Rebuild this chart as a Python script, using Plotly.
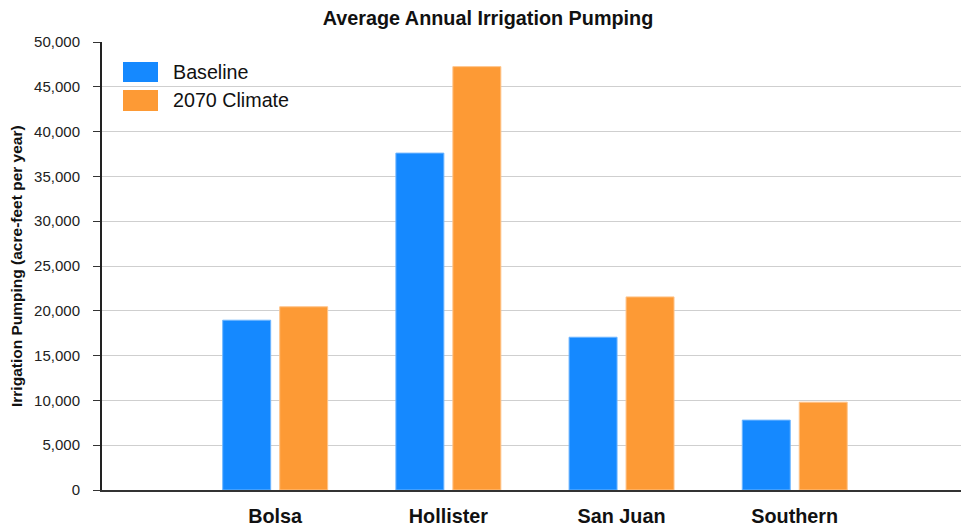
import plotly.graph_objects as go

# Average annual irrigation pumping by subbasin (acre-feet per year)
regions = ["Bolsa", "Hollister", "San Juan", "Southern"]
baseline = [18950, 37600, 17050, 7800]
climate_2070 = [20450, 47250, 21550, 9800]
y_ticks = [0, 5000, 10000, 15000, 20000, 25000, 30000, 35000, 40000, 45000, 50000]

BLUE = "#1589FF"
ORANGE = "#FD9A35"
FONT = "Liberation Sans, Arial, sans-serif"

W, H = 961, 526
ML, MR, MT, MB = 102, 0, 42, 36
PW, PH = W - ML - MR, H - MT - MB


def px_x(p):
    return (p - ML) / PW


def px_y(p):
    return (H - MB - p) / PH


fig = go.Figure()
fig.add_trace(go.Bar(name="Baseline", x=regions, y=baseline,
                     marker=dict(color=BLUE, line=dict(color="#6fb6ff", width=1))))
fig.add_trace(go.Bar(name="2070 Climate", x=regions, y=climate_2070,
                     marker=dict(color=ORANGE, line=dict(color="#ffc48a", width=1))))

# hand-drawn legend with wide swatches
legend_items = [("Baseline", BLUE, 62, 82), ("2070 Climate", ORANGE, 90, 111)]
for label, color, top, bottom in legend_items:
    fig.add_shape(type="rect", xref="paper", yref="paper",
                  x0=px_x(123), x1=px_x(158), y0=px_y(bottom), y1=px_y(top),
                  fillcolor=color, line=dict(width=0))
    fig.add_annotation(xref="paper", yref="paper", x=px_x(171), y=px_y((top + bottom) / 2),
                       text=label, showarrow=False, xanchor="left", yanchor="middle",
                       font=dict(family=FONT, size=19.7, color="#111"))

fig.add_annotation(xref="paper", yref="paper", x=px_x(16), y=px_y(266),
                   text="<b>Irrigation Pumping (acre-feet per year)</b>", textangle=-90,
                   showarrow=False, xanchor="center", yanchor="middle",
                   font=dict(family=FONT, size=15.5, color="#111"))

fig.update_layout(
    width=W, height=H,
    margin=dict(l=ML, r=MR, t=MT, b=MB),
    paper_bgcolor="white", plot_bgcolor="white",
    barmode="group", bargap=0.342, bargroupgap=0.158,
    showlegend=False,
    title=dict(text="<b>Average Annual Irrigation Pumping</b>", x=488 / W, xanchor="center",
               y=1 - 18 / H, yanchor="middle",
               font=dict(family=FONT, size=19.8, color="#111")),
    font=dict(family=FONT, color="#222"),
)

fig.update_xaxes(
    range=[-1.0, 3.96],
    showline=True, linecolor="#333", linewidth=2,
    showgrid=False, ticks="",
    tickfont=dict(family=FONT, size=19.8, color="#111"),
    tickprefix="<b>", ticksuffix="</b>",
    ticklabelstandoff=7,
)
fig.update_yaxes(
    range=[0, 50000],
    tickvals=y_ticks, ticktext=[f"{v:,}" for v in y_ticks],
    showline=True, linecolor="#222", linewidth=2,
    showgrid=True, gridcolor="#cfcfcf", gridwidth=1,
    zeroline=False,
    ticks="outside", ticklen=7, tickcolor="#333", tickwidth=1,
    tickfont=dict(family=FONT, size=15, color="#222"),
    ticklabelstandoff=10,
)

fig.write_html("out.html")
